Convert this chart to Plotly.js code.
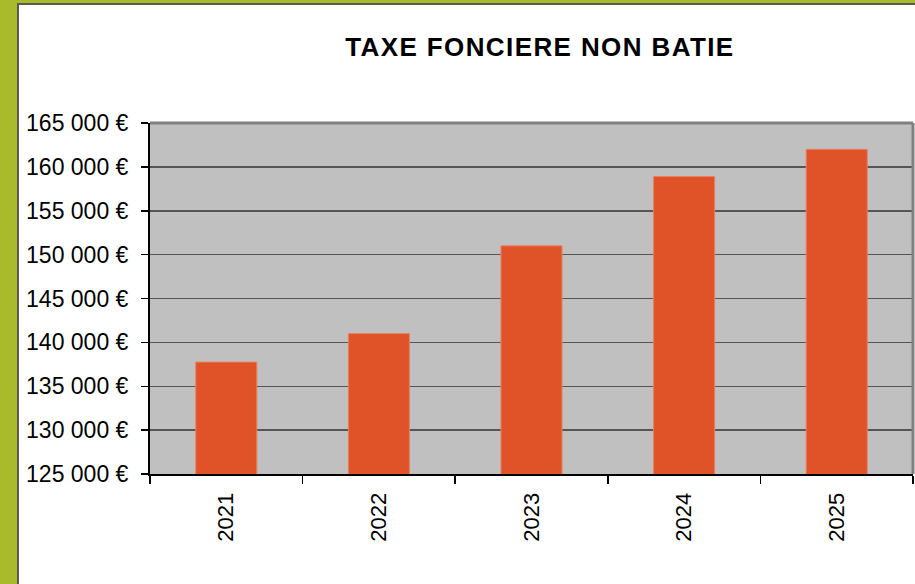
<!DOCTYPE html>
<html>
<head>
<meta charset="utf-8">
<script src="https://cdn.plot.ly/plotly-3.0.1.min.js"></script>
<style>
  html, body { margin: 0; padding: 0; background: #ffffff; }
  #wrap { position: relative; width: 915px; height: 584px; overflow: hidden; }
  #chart { position: absolute; left: 0; top: 0; width: 915px; height: 584px; }
  .frame { position: absolute; pointer-events: none; }
  .gtitle { letter-spacing: 1.4px; }
</style>
</head>
<body>
<div id="wrap">
  <div id="chart"></div>
  <div class="frame" style="left:0;top:0;width:17px;height:584px;background:#a9ba2b;"></div>
  <div class="frame" style="left:0;top:0;width:915px;height:3px;background:#a9ba2b;"></div>
  <div class="frame" style="left:17px;top:3px;width:2px;height:581px;background:#5a5a52;"></div>
  <div class="frame" style="left:17px;top:3px;width:898px;height:2px;background:#5a5a52;"></div>
</div>
<script>
const years = ['2021', '2022', '2023', '2024', '2025'];
const taxValues = [137750, 141000, 151000, 158900, 162000];
const chartTitle = 'TAXE FONCIERE NON BATIE';

const trace = {
  type: 'bar',
  x: years,
  y: taxValues,
  marker: { color: '#e05328', line: { color: '#e8805f', width: 1 } },
  hoverinfo: 'x+y'
};

const layout = {
  width: 915,
  height: 584,
  margin: { l: 150, r: 2, t: 123, b: 110, pad: 0 },
  paper_bgcolor: '#ffffff',
  plot_bgcolor: '#c0c0c0',
  separators: ', ',
  showlegend: false,
  bargap: 0.6,
  font: { family: 'Liberation Sans, Arial, sans-serif', color: '#000000', size: 23 },
  title: {
    text: '<b>' + chartTitle + '</b>',
    font: { family: 'Liberation Sans, Arial, sans-serif', size: 26, color: '#000000' },
    x: 0.511, xref: 'paper', xanchor: 'center',
    y: 1 - 47 / 584, yref: 'container', yanchor: 'middle'
  },
  xaxis: {
    type: 'category',
    tickson: 'boundaries',
    ticks: 'outside', ticklen: 8, tickwidth: 1.5, tickcolor: '#000000',
    tickangle: -90,
    tickfont: { size: 22 },
    ticklabelstandoff: 8,
    showline: true, linecolor: '#000000', linewidth: 2,
    showgrid: false, zeroline: false
  },
  yaxis: {
    range: [125000, 165000],
    dtick: 5000, tick0: 125000,
    tickformat: ',d', ticksuffix: ' €',
    ticks: 'outside', ticklen: 7, tickwidth: 1.5, tickcolor: '#000000',
    tickfont: { size: 23 },
    ticklabelstandoff: 8,
    showline: true, linecolor: '#000000', linewidth: 2,
    showgrid: true, gridcolor: '#555555', gridwidth: 1.5,
    zeroline: false
  },
  shapes: [
    { type: 'line', xref: 'paper', yref: 'paper', x0: 0, x1: 1, y0: 1, y1: 1,
      line: { color: '#808080', width: 3 }, layer: 'above' },
    { type: 'line', xref: 'paper', yref: 'paper', x0: 1, x1: 1, y0: 0, y1: 1,
      line: { color: '#808080', width: 3 }, layer: 'above' }
  ]
};

Plotly.newPlot('chart', [trace], layout, { displayModeBar: false, staticPlot: true });
</script>
</body>
</html>
